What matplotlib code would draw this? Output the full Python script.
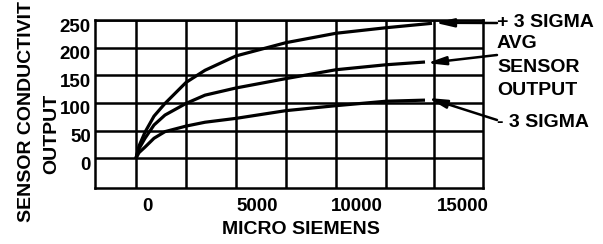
import numpy as np
import matplotlib
matplotlib.use("Agg")
import matplotlib.pyplot as plt
import matplotlib.transforms as mtransforms

# values (x in micro siemens, y in sensor output)
x_plus = [0, 150, 450, 900, 1450, 2500, 3450, 5000, 7500, 10000, 12500, 14800]
y_plus = [0, 22, 47, 76, 99, 137, 159, 185, 209, 226, 236, 244]
x_avg = [0, 150, 450, 900, 1450, 2500, 3450, 5000, 7500, 10000, 12500, 14450]
y_avg = [0, 17, 36, 60, 78, 99, 114, 127, 144, 160, 169, 174]
x_minus = [0, 150, 450, 900, 1450, 2500, 3450, 5000, 7500, 10000, 12500, 14450]
y_minus = [0, 10, 20, 36, 48, 58, 65, 72, 86, 95, 103, 105]

y_ticks = [0, 50, 100, 150, 200, 250]
x_ticklabels = ["0", "5000", "10000", "15000"]
x_label_pos = [550, 6050, 11050, 16350]          # labels sit off the grid lines
x_grid = [0, 2500, 5000, 7500, 10000, 12500, 14900]

plt.rcParams.update({"font.family": ["Liberation Sans", "DejaVu Sans"], "font.weight": "bold"})

fig = plt.figure(figsize=(6.03, 2.44), dpi=100)
ax = fig.add_axes([95/603, 1 - 188/244, 388/603, 168/244])
LW = 1.8

for xg in x_grid:
    ax.axvline(xg, color="k", lw=LW, zorder=1)
for yg in y_ticks:
    ax.axhline(yg, color="k", lw=LW, zorder=1)

for xs, ys in [(x_plus, y_plus), (x_avg, y_avg), (x_minus, y_minus)]:
    ax.plot(xs, ys, color="k", lw=2.3, solid_capstyle="butt", zorder=3)

ax.set_xlim(-2050, 17350); ax.set_ylim(-54, 250)
for s in ax.spines.values():
    s.set_linewidth(LW)
ax.set_yticks(y_ticks); ax.set_yticklabels([str(v) for v in y_ticks])
ax.set_xticks(x_label_pos); ax.set_xticklabels(x_ticklabels)
ax.tick_params(length=0, labelsize=13.5)
ax.tick_params(axis="y", pad=3)
ax.tick_params(axis="x", pad=7)
off = mtransforms.ScaledTranslation(0, -5/100, fig.dpi_scale_trans)
for lab in ax.get_yticklabels():
    lab.set_transform(lab.get_transform() + off)

fig.text(301/603, 14/244, "MICRO SIEMENS", ha="center", va="center", fontsize=14)
fig.text(27/603, 132.5/244, "SENSOR CONDUCTIVIT", rotation=90, ha="center", va="center", fontsize=14)
fig.text(52/603, 110.5/244, "OUTPUT", rotation=90, ha="center", va="center", fontsize=14)

for txt, yb in [("+ 3 SIGMA", 217), ("AVG", 196), ("SENSOR", 172), ("OUTPUT", 149), ("- 3 SIGMA", 117)]:
    fig.text(497/603, yb/244, txt, ha="left", va="baseline", fontsize=14)

# arrows from the labels to the curve ends
arrows = [((14950, 245), (497, 221)), ((14550, 172), (497, 189)), ((14600, 109), (497, 124))]
for tip, tail in arrows:
    ax.annotate("", xy=tip, xycoords="data", xytext=tail, textcoords="figure pixels",
                arrowprops=dict(arrowstyle="-|>,head_length=1.1,head_width=0.25",
                                color="k", lw=1.8, shrinkA=0, shrinkB=0),
                annotation_clip=False, zorder=4)

fig.savefig("out.png", dpi=100)
